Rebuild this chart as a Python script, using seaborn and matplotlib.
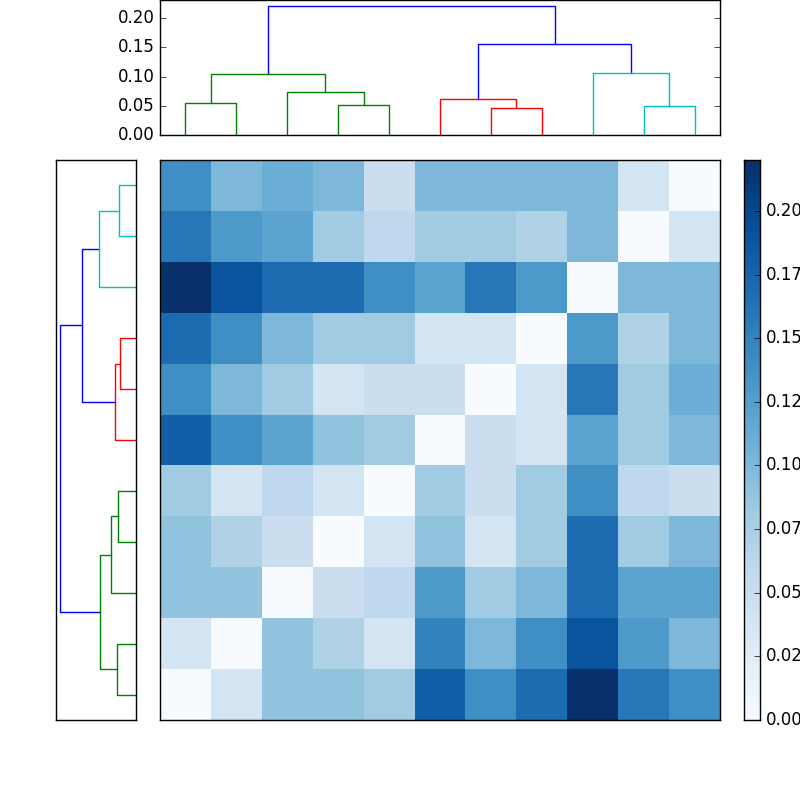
import numpy as np
import matplotlib
matplotlib.use("Agg")
import matplotlib.pyplot as plt
import seaborn as sns

plt.style.use("classic")

# distance matrix, rows listed top (visual) to bottom
rows_top_to_bottom = [
    [0.14, 0.10, 0.11, 0.10, 0.05, 0.10, 0.10, 0.10, 0.10, 0.04, 0.00],
    [0.16, 0.13, 0.12, 0.08, 0.06, 0.08, 0.08, 0.07, 0.10, 0.00, 0.04],
    [0.22, 0.19, 0.17, 0.17, 0.14, 0.12, 0.16, 0.13, 0.00, 0.10, 0.10],
    [0.17, 0.14, 0.10, 0.08, 0.08, 0.04, 0.04, 0.00, 0.13, 0.07, 0.10],
    [0.14, 0.10, 0.08, 0.04, 0.05, 0.05, 0.00, 0.04, 0.16, 0.08, 0.11],
    [0.18, 0.14, 0.12, 0.09, 0.08, 0.00, 0.05, 0.04, 0.12, 0.08, 0.10],
    [0.08, 0.04, 0.06, 0.04, 0.00, 0.08, 0.05, 0.08, 0.14, 0.06, 0.05],
    [0.09, 0.07, 0.05, 0.00, 0.04, 0.09, 0.04, 0.08, 0.17, 0.08, 0.10],
    [0.09, 0.09, 0.00, 0.05, 0.06, 0.13, 0.08, 0.10, 0.17, 0.12, 0.12],
    [0.04, 0.00, 0.09, 0.07, 0.04, 0.15, 0.10, 0.14, 0.19, 0.13, 0.10],
    [0.00, 0.04, 0.09, 0.09, 0.08, 0.18, 0.14, 0.17, 0.22, 0.16, 0.14],
]

# linkage: (child_a, child_b, height); new cluster ids start at 11
linkage = [
    (0, 1, 0.055),
    (3, 4, 0.052),
    (2, 12, 0.073),
    (11, 13, 0.105),
    (6, 7, 0.047),
    (5, 15, 0.061),
    (9, 10, 0.049),
    (8, 17, 0.106),
    (16, 18, 0.155),
    (14, 19, 0.220),
]
n_leaves = 11
cbar_ticks = [0.0, 0.025, 0.05, 0.075, 0.10, 0.125, 0.15, 0.175, 0.20]
cbar_labels = ["0.00", "0.02", "0.05", "0.07", "0.10", "0.12", "0.15", "0.17", "0.20"]

# ---- dendrogram geometry from linkage
pos = {i: 5 + 10 * i for i in range(n_leaves)}
hgt = {i: 0.0 for i in range(n_leaves)}
children = {}
for k, (a, b, h) in enumerate(linkage):
    cid = n_leaves + k
    children[cid] = (a, b, h)
    pos[cid] = (pos[a] + pos[b]) / 2
    hgt[cid] = h
root = n_leaves + len(linkage) - 1
thresh = 0.7 * max(h for _, _, h in linkage)
palette = ["g", "r", "c"]
segs = []
counter = [0]

def walk(c, color):
    if c not in children:
        return
    a, b, h = children[c]
    col = color
    if color is None:
        if h > thresh:
            col = None
        else:
            col = palette[counter[0] % 3]
            counter[0] += 1
    draw_col = col if col is not None else "b"
    segs.append(([pos[a], pos[a], pos[b], pos[b]], [hgt[a], h, h, hgt[b]], draw_col))
    walk(a, col)
    walk(b, col)

walk(root, None)

fig = plt.figure(figsize=(8, 8), dpi=100, facecolor="white")

axt = fig.add_axes([0.2, 0.83125, 0.7, 0.16875])
for xs, ys, c in segs:
    axt.plot(xs, ys, color=c, lw=1)
axt.set_xlim(0, 10 * n_leaves)
axt.set_ylim(0, 0.2308)
axt.set_xticks([])
axt.set_yticks([0, 0.05, 0.10, 0.15, 0.20])
axt.set_yticklabels(["0.00", "0.05", "0.10", "0.15", "0.20"])

axl = fig.add_axes([0.07, 0.1, 0.1, 0.7])
for xs, ys, c in segs:
    axl.plot(ys, xs, color=c, lw=1)
axl.set_ylim(0, 10 * n_leaves)
axl.set_xlim(0.2308, 0)
axl.set_xticks([])
axl.set_yticks([])

axh = fig.add_axes([0.2, 0.1, 0.7, 0.7])
cax = fig.add_axes([0.93, 0.1, 0.02, 0.7])
sns.heatmap(np.array(rows_top_to_bottom), ax=axh, cbar_ax=cax, cmap="Blues",
            vmin=0, vmax=0.22, xticklabels=False, yticklabels=False)
for s in axh.spines.values():
    s.set_visible(True)
    s.set_color("black")
cax.set_yticks(cbar_ticks)
cax.set_yticklabels(cbar_labels)
for s in cax.spines.values():
    s.set_visible(True)
    s.set_color("black")

fig.savefig("out.png", dpi=100, facecolor="white")
